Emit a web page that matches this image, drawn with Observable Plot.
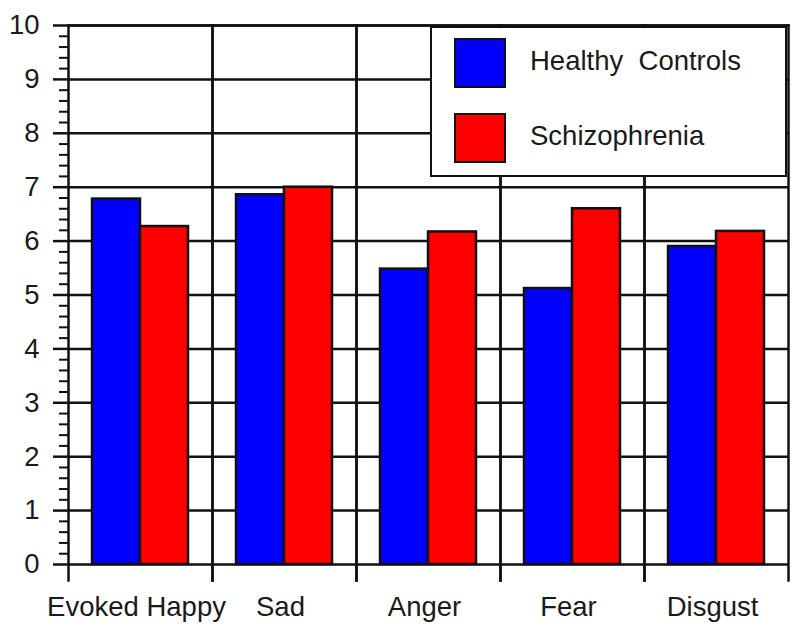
<!DOCTYPE html>
<html>
<head>
<meta charset="utf-8">
<script src="https://cdn.jsdelivr.net/npm/d3@7"></script>
<script src="https://cdn.jsdelivr.net/npm/@observablehq/plot@0.6"></script>
<style>
  html, body { margin: 0; padding: 0; background: #fff; }
  #wrap { position: relative; width: 800px; height: 632px; font-family: "Liberation Sans", Arial, Helvetica, sans-serif; }
  #legend { position: absolute; box-sizing: border-box; border: 2.5px solid #111; background: #fff; }
  .item { position: absolute; display: flex; align-items: center; }
  .sw { box-sizing: border-box; width: 52px; height: 50px; border: 2.5px solid #111; }
  .lab { margin-left: 24px; font-size: 27.5px; color: #1a1a1a; white-space: pre; position: relative; top: -2px; }
</style>
</head>
<body>
<div id="wrap"></div>
<script>
const categories = ["Evoked Happy", "Sad", "Anger", "Fear", "Disgust"];
const groups = ["Healthy Controls", "Schizophrenia"];
const healthy = [6.78, 6.86, 5.48, 5.12, 5.90];
const schizo = [6.27, 7.00, 6.17, 6.60, 6.18];
const colors = ["#0000ff", "#ff0000"];
const majorTicks = [0, 1, 2, 3, 4, 5, 6, 7, 8, 9, 10];
const minorTicks = d3.range(0, 50).map(i => i / 5).filter(v => v % 1 !== 0);

const data = categories.flatMap((c, i) => [
  {category: c, group: groups[0], value: healthy[i]},
  {category: c, group: groups[1], value: schizo[i]}
]);

const plot = Plot.plot({
  width: 800,
  height: 632,
  marginLeft: 67,
  marginRight: 11,
  marginTop: 25,
  marginBottom: 52,
  style: {fontFamily: '"Liberation Sans", Arial, Helvetica, sans-serif', fontSize: "27.5px", color: "#1a1a1a", background: "#fff"},
  fx: {domain: categories, paddingInner: 0, paddingOuter: 0, label: null},
  x: {domain: groups, paddingInner: 0, paddingOuter: 0.47, axis: null},
  y: {domain: [-0.297, 10], axis: null},
  color: {domain: groups, range: colors},
  marks: [
    Plot.ruleY(majorTicks, {stroke: "#111", strokeWidth: 2.5}),
    Plot.barY(data, {fx: "category", x: "group", y: "value", fill: "group", stroke: "#111", strokeWidth: 2.5}),
    Plot.frame({anchor: "left", stroke: "#111", strokeWidth: 2.5}),
    Plot.frame({anchor: "right", stroke: "#111", strokeWidth: 2.5}),
    Plot.frame({anchor: "top", stroke: "#111", strokeWidth: 2.5}),
    Plot.axisY(majorTicks, {anchor: "left", tickSize: 15, tickPadding: 14, strokeWidth: 2.5, stroke: "#111", fontSize: 27.5, label: null, tickFormat: d => String(d)}),
    Plot.axisY(minorTicks, {anchor: "left", tickSize: 9, strokeWidth: 2, stroke: "#111", tickFormat: null, text: null, label: null}),
    Plot.axisFx({anchor: "bottom", tickSize: 0, tickPadding: 16, dx: -4, fontSize: 27.5, label: null})
  ]
});

const wrap = document.getElementById("wrap");
wrap.appendChild(plot);

// Legend box placed inside the plot area (upper right)
const color = plot.scale("color");
const legend = document.createElement("div");
legend.id = "legend";
legend.style.left = "430px";
legend.style.top = "26px";
legend.style.width = "357px";
legend.style.height = "151px";
const labels = ["Healthy  Controls", "Schizophrenia"];
groups.forEach((g, i) => {
  const item = document.createElement("div");
  item.className = "item";
  item.style.left = "22px";
  item.style.top = (10 + i * 75) + "px";
  const sw = document.createElement("div");
  sw.className = "sw";
  sw.style.background = color.apply(g);
  const lab = document.createElement("span");
  lab.className = "lab";
  lab.textContent = labels[i];
  item.appendChild(sw);
  item.appendChild(lab);
  legend.appendChild(item);
});
wrap.appendChild(legend);
</script>
</body>
</html>
